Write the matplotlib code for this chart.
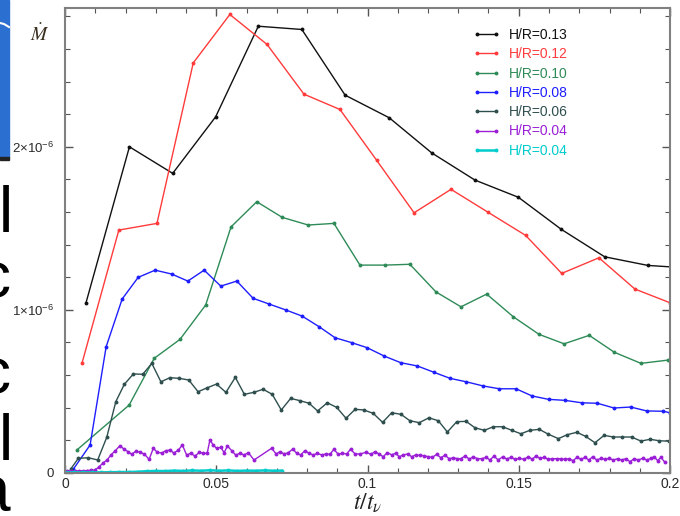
import numpy as np
import matplotlib
matplotlib.use("Agg")
import matplotlib.pyplot as plt
from matplotlib.ticker import MultipleLocator
from matplotlib.patches import Rectangle
from matplotlib.lines import Line2D

plt.rcParams['font.family'] = ['Liberation Sans', 'DejaVu Sans']
plt.rcParams['mathtext.fontset'] = 'custom'
plt.rcParams['mathtext.rm'] = 'Liberation Sans'
plt.rcParams['mathtext.it'] = 'Liberation Sans:italic'

# accretion rate in units of 1e-6, time in t/t_nu
x13 = [0.0069, 0.0213, 0.0356, 0.0498, 0.0639, 0.0783, 0.0926, 0.1072, 0.1212, 0.1355,
       0.1499, 0.1641, 0.1784, 0.1927, 0.2070]
y13 = [1.04, 2.00, 1.837, 2.184, 2.74, 2.72, 2.317, 2.178, 1.963, 1.796,
       1.690, 1.493, 1.325, 1.272, 1.255]

x12 = [0.0056, 0.0178, 0.0304, 0.0424, 0.0545, 0.0668, 0.0790, 0.0909, 0.1030, 0.1154,
       0.1276, 0.1398, 0.1523, 0.1642, 0.1765, 0.1884, 0.2000]
y12 = [0.671, 1.489, 1.530, 2.515, 2.812, 2.628, 2.323, 2.229, 1.918, 1.595,
       1.739, 1.599, 1.456, 1.223, 1.319, 1.127, 1.043]

x10 = [0.0039, 0.0212, 0.0295, 0.0380, 0.0465, 0.0549, 0.0634, 0.0718, 0.0804, 0.0889,
       0.0975, 0.1058, 0.1140, 0.1226, 0.1309, 0.1394, 0.1482, 0.1567, 0.1650, 0.1733,
       0.1816, 0.1904, 0.1993]
y10 = [0.139, 0.415, 0.702, 0.818, 1.029, 1.509, 1.663, 1.567, 1.520, 1.530,
       1.274, 1.274, 1.279, 1.110, 1.018, 1.096, 0.957, 0.849, 0.791, 0.843,
       0.739, 0.671, 0.691]

x08 = [0.0028, 0.0083, 0.0136, 0.0189, 0.0242, 0.0298, 0.0353, 0.0406, 0.0460, 0.0515,
       0.0568, 0.0622, 0.0675, 0.0731, 0.0784, 0.0840, 0.0893, 0.0948, 0.0999, 0.1055,
       0.1110, 0.1165, 0.1220, 0.1273, 0.1326, 0.1383, 0.1436, 0.1491, 0.1544, 0.1599,
       0.1653, 0.1708, 0.1760, 0.1815, 0.1870, 0.1923, 0.1978, 0.2000]
y08 = [0.023, 0.170, 0.773, 1.066, 1.199, 1.243, 1.219, 1.176, 1.243, 1.145,
       1.176, 1.070, 1.035, 0.998, 0.961, 0.896, 0.828, 0.798, 0.767, 0.716,
       0.675, 0.655, 0.616, 0.579, 0.558, 0.532, 0.515, 0.515, 0.471, 0.450,
       0.444, 0.429, 0.426, 0.397, 0.403, 0.379, 0.377, 0.368]

x06 = [0.0019, 0.0044, 0.0077, 0.0108, 0.0138, 0.0168, 0.0196, 0.0226, 0.0257, 0.0287,
       0.0317, 0.0347, 0.0378, 0.0409, 0.0440, 0.0470, 0.0501, 0.0532, 0.0563, 0.0593,
       0.0624, 0.0655, 0.0685, 0.0715, 0.0746, 0.0777, 0.0807, 0.0835, 0.0867, 0.0898,
       0.0929, 0.0959, 0.0988, 0.1019, 0.1050, 0.1080, 0.1111, 0.1140, 0.1171, 0.1203,
       0.1234, 0.1264, 0.1295, 0.1326, 0.1355, 0.1386, 0.1416, 0.1447, 0.1477, 0.1507,
       0.1537, 0.1568, 0.1598, 0.1631, 0.1660, 0.1692, 0.1721, 0.1752, 0.1782, 0.1813,
       0.1842, 0.1873, 0.1904, 0.1934, 0.1965, 0.1998]
y06 = [0.023, 0.088, 0.092, 0.078, 0.217, 0.436, 0.542, 0.606, 0.604, 0.671,
       0.558, 0.583, 0.579, 0.569, 0.497, 0.521, 0.544, 0.493, 0.585, 0.481,
       0.493, 0.512, 0.481, 0.385, 0.456, 0.442, 0.426, 0.379, 0.429, 0.401,
       0.334, 0.389, 0.385, 0.364, 0.309, 0.368, 0.358, 0.319, 0.307, 0.337,
       0.319, 0.250, 0.313, 0.315, 0.276, 0.260, 0.282, 0.282, 0.260, 0.239,
       0.260, 0.266, 0.236, 0.209, 0.233, 0.248, 0.223, 0.184, 0.229, 0.219,
       0.219, 0.219, 0.194, 0.205, 0.196, 0.193]

x04 = [0.0006, 0.0019, 0.0033, 0.0046, 0.0060, 0.0073, 0.0086, 0.0099, 0.0112, 0.0126,
       0.0139, 0.0152, 0.0165, 0.0182, 0.0195, 0.0209, 0.0220, 0.0235, 0.0248, 0.0262,
       0.0278, 0.0292, 0.0305, 0.0320, 0.0333, 0.0347, 0.0360, 0.0375, 0.0388, 0.0402,
       0.0416, 0.0430, 0.0444, 0.0457, 0.0470, 0.0479, 0.0490, 0.0501, 0.0515, 0.0526,
       0.0537, 0.0551, 0.0564, 0.0579, 0.0592, 0.0606, 0.0625, 0.0683, 0.0698, 0.0711,
       0.0725, 0.0738, 0.0753, 0.0766, 0.0779, 0.0793, 0.0807, 0.0821, 0.0834, 0.0849,
       0.0862, 0.0876, 0.0889, 0.0903, 0.0917, 0.0931, 0.0944, 0.0959, 0.0975, 0.0995,
       0.1011, 0.1025, 0.1038, 0.1052, 0.1065, 0.1080, 0.1093, 0.1105, 0.1118, 0.1133,
       0.1146, 0.1159, 0.1174, 0.1188, 0.1201, 0.1214, 0.1229, 0.1242, 0.1256, 0.1270,
       0.1284, 0.1297, 0.1309, 0.1322, 0.1337, 0.1350, 0.1363, 0.1378, 0.1392, 0.1405,
       0.1418, 0.1432, 0.1447, 0.1460, 0.1474, 0.1488, 0.1502, 0.1517, 0.1532, 0.1545,
       0.1556, 0.1570, 0.1584, 0.1598, 0.1611, 0.1625, 0.1640, 0.1653, 0.1666, 0.1680,
       0.1692, 0.1706, 0.1719, 0.1732, 0.1744, 0.1758, 0.1772, 0.1785, 0.1799, 0.1813,
       0.1827, 0.1840, 0.1854, 0.1868, 0.1881, 0.1895, 0.1910, 0.1923, 0.1937, 0.1948,
       0.1959, 0.1970, 0.1983]
y04 = [0.012, 0.011, 0.012, 0.011, 0.012, 0.013, 0.015, 0.016, 0.035, 0.060,
       0.078, 0.109, 0.133, 0.166, 0.144, 0.129, 0.113, 0.133, 0.125, 0.115,
       0.082, 0.150, 0.125, 0.121, 0.135, 0.139, 0.121, 0.139, 0.170, 0.109,
       0.119, 0.102, 0.125, 0.119, 0.119, 0.201, 0.170, 0.150, 0.156, 0.123,
       0.164, 0.135, 0.109, 0.119, 0.109, 0.123, 0.078, 0.150, 0.115, 0.129,
       0.115, 0.123, 0.145, 0.119, 0.109, 0.135, 0.119, 0.109, 0.119, 0.109,
       0.115, 0.113, 0.144, 0.113, 0.119, 0.115, 0.144, 0.115, 0.115, 0.125,
       0.113, 0.129, 0.115, 0.098, 0.123, 0.110, 0.119, 0.098, 0.109, 0.115,
       0.098, 0.109, 0.107, 0.104, 0.098, 0.094, 0.113, 0.092, 0.107, 0.086,
       0.092, 0.086, 0.086, 0.102, 0.084, 0.098, 0.086, 0.086, 0.094, 0.078,
       0.102, 0.078, 0.098, 0.084, 0.094, 0.082, 0.088, 0.082, 0.098, 0.082,
       0.102, 0.088, 0.094, 0.082, 0.086, 0.086, 0.086, 0.082, 0.086, 0.074,
       0.094, 0.082, 0.094, 0.078, 0.098, 0.078, 0.088, 0.082, 0.088, 0.078,
       0.086, 0.078, 0.086, 0.067, 0.086, 0.078, 0.088, 0.078, 0.088, 0.098,
       0.074, 0.094, 0.064]

x04b = [0.000, 0.003, 0.006, 0.009, 0.012, 0.015, 0.018, 0.021, 0.024, 0.027,
        0.030, 0.033, 0.036, 0.039, 0.042, 0.045, 0.048, 0.051, 0.054, 0.057,
        0.060, 0.063, 0.066, 0.069, 0.0717]
y04b = [0.002, 0.002, 0.002, 0.002, 0.002, 0.003, 0.004, 0.004, 0.006, 0.009,
        0.011, 0.010, 0.013, 0.011, 0.014, 0.012, 0.015, 0.012, 0.014, 0.011,
        0.013, 0.012, 0.014, 0.012, 0.013]

labels = ["H/R=0.13", "H/R=0.12", "H/R=0.10", "H/R=0.08", "H/R=0.06", "H/R=0.04", "H/R=0.04"]
colors = ["#111111", "#ff3b3b", "#2e8b57", "#1e1eff", "#2f4f4f", "#9b1fd6", "#00cccc"]
widths = [1.0, 1.0, 1.0, 1.0, 1.0, 1.0, 1.8]

W, H = 680, 516
fig = plt.figure(figsize=(6.8, 5.16), dpi=100)
ax = fig.add_axes([65 / W, 1 - 472.7 / H, 605 / W, 464.4 / H])

series = [(x13, y13), (x12, y12), (x10, y10), (x08, y08), (x06, y06), (x04, y04), (x04b, y04b)]
for (xs, ys), c, lab, lw in zip(series, colors, labels, widths):
    ax.plot(xs, ys, '-', color=c, lw=lw, marker='o', ms=1.8, label=lab)

ax.set_xlim(0, 0.2)
ax.set_ylim(0, 2.85)
ax.set_xticks([0, 0.05, 0.1, 0.15, 0.2], labels=["0", "0.05", "0.1", "0.15", "0.2"])
ax.xaxis.set_minor_locator(MultipleLocator(0.01))
ax.set_yticks([0, 1, 2], labels=["0", r"$1{\times}10^{-6}$", r"$2{\times}10^{-6}$"])
ax.yaxis.set_minor_locator(MultipleLocator(0.2))
ax.tick_params(which='both', direction='in', top=True, right=True, color='#555555',
               labelcolor='#2a2a2a')
ax.tick_params(which='major', length=6, width=1)
ax.tick_params(which='minor', length=3.5, width=0.8)
ax.tick_params(axis='x', labelsize=10, pad=3)
ax.tick_params(axis='y', labelsize=9.5, pad=8)
for s in ax.spines.values():
    s.set_color('#808080')
    s.set_linewidth(1.5)

fig.text(40 / W, 1 - 34 / H, r"$\dot{M}$", math_fontfamily='stix', fontsize=14,
         ha='center', va='center', color='#3a3020')
fig.text(368 / W, 1 - 503 / H, r"$t/t_\nu$", math_fontfamily='stix', fontsize=17,
         ha='center', va='center', color='#222222')

ax.legend(loc='upper left', bbox_to_anchor=(473 / W, 1 - 28 / H), bbox_transform=fig.transFigure,
          frameon=False, fontsize=10, labelcolor='linecolor', handlelength=1.95,
          handletextpad=0.65, labelspacing=0.38, borderpad=0, borderaxespad=0, numpoints=2)

# leftover bits of the slide behind the plot
fig.patches.append(Rectangle((0, 1 - 157 / H), 9 / W, 157 / H, transform=fig.transFigure,
                             color='#2b6fd1', zorder=0))
fig.patches.append(Rectangle((0, 1 - 160 / H), 9 / W, 3 / H, transform=fig.transFigure,
                             color='#222222', zorder=0))
fig.lines.append(Line2D([0, 4 / W, 9 / W], [1 - 23 / H, 1 - 24 / H, 1 - 27 / H],
                        transform=fig.transFigure, color='white', lw=1.5))
for ch, px, py, ha in [("l", 6, 232, 'center'), ("c", 10, 298, 'right'), ("c", 10, 394, 'right'),
                       ("l", 6, 460, 'center'), ("a", 10, 512, 'right')]:
    fig.text(px / W, 1 - py / H, ch, fontsize=46, ha=ha, va='baseline', color='black')

fig.savefig("out.png", dpi=100)
